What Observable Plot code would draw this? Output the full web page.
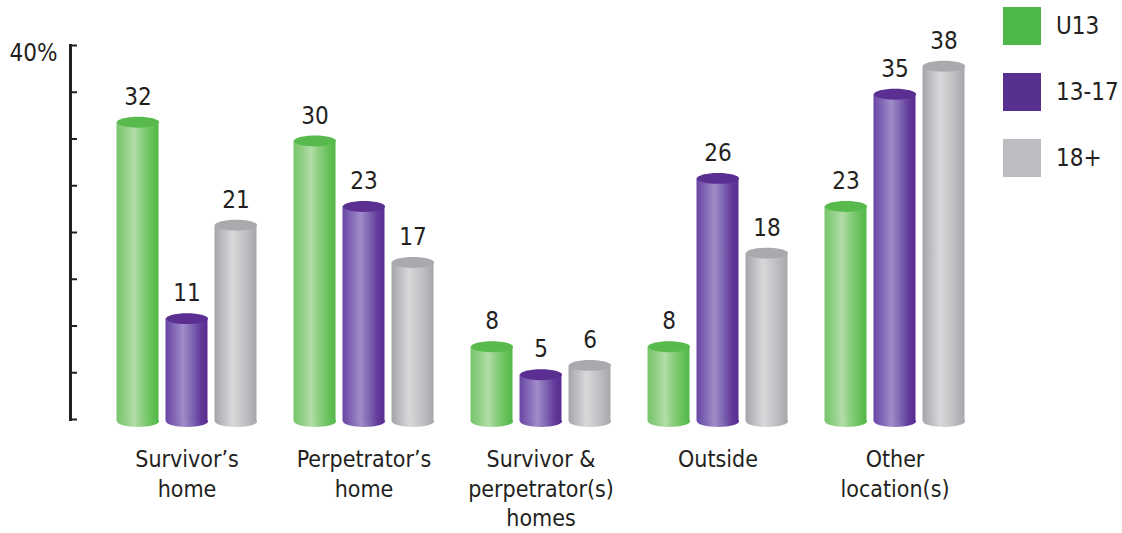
<!DOCTYPE html>
<html>
<head>
<meta charset="utf-8">
<script src="https://cdn.jsdelivr.net/npm/d3@7"></script>
<script src="https://cdn.jsdelivr.net/npm/@observablehq/plot@0.6"></script>
<style>
  html, body { margin: 0; padding: 0; background: #fff; }
  #wrap { position: relative; width: 1122px; height: 533px; font-family: "Liberation Sans Narrow", "DejaVu Sans Condensed", "DejaVu Sans", sans-serif; font-stretch: condensed; color: #231f20; }
  #legend { position: absolute; left: 1003px; top: 7px; }
  .item { display: flex; align-items: center; height: 38px; margin-bottom: 28px; }
  .sw { width: 38px; height: 38px; margin-right: 15px; }
  .lab { font-size: 24px; }
</style>
</head>
<body>
<div id="wrap"><div id="legend"></div></div>
<script>
const categories = ["Survivor’s home", "Perpetrator’s home", "Survivor & perpetrator(s) homes", "Outside", "Other location(s)"];
const categoryLabels = ["Survivor’s\nhome", "Perpetrator’s\nhome", "Survivor &\nperpetrator(s)\nhomes", "Outside", "Other\nlocation(s)"];
const series = ["U13", "13-17", "18+"];
const valuesU13 = [32, 30, 8, 8, 23];
const values1317 = [11, 23, 5, 26, 35];
const values18 = [21, 17, 6, 18, 38];
const yTicks = [0, 5, 10, 15, 20, 25, 30, 35, 40];

const seriesValues = [valuesU13, values1317, values18];
const legendColors = ["#4cb848", "#55308f", "#bcbdc0"];
const topColors = ["#58ba4c", "#5a2f91", "#a9aaad"];
const gradStops = [
  [["0%", "#78c56c"], ["20%", "#8fcf84"], ["42%", "#b3dda8"], ["60%", "#8ccf80"], ["82%", "#69c25c"], ["100%", "#52b746"]],
  [["0%", "#6846a3"], ["20%", "#8166b6"], ["42%", "#a18cc8"], ["62%", "#8068b4"], ["84%", "#623a9a"], ["100%", "#582c90"]],
  [["0%", "#a4a5a8"], ["20%", "#bdbec1"], ["42%", "#d7d8da"], ["65%", "#c6c7c9"], ["85%", "#b4b5b8"], ["100%", "#a6a7aa"]]
];

const data = series.flatMap((s, si) => categories.map((c, ci) => ({category: c, series: s, value: seriesValues[si][ci]})));
const labelData = categories.map((c, i) => ({category: c, label: categoryLabels[i]}));

const ellipse = {
  draw(ctx, size) {
    const rx = Math.sqrt(size / Math.PI), ry = rx * 0.26, k = 0.5523;
    ctx.moveTo(rx, 0);
    ctx.bezierCurveTo(rx, ry * k, rx * k, ry, 0, ry);
    ctx.bezierCurveTo(-rx * k, ry, -rx, ry * k, -rx, 0);
    ctx.bezierCurveTo(-rx, -ry * k, -rx * k, -ry, 0, -ry);
    ctx.bezierCurveTo(rx * k, -ry, rx, -ry * k, rx, 0);
    ctx.closePath();
  }
};

const step = 49, barW = 42;
const seriesMarks = series.flatMap((s, si) => {
  const d = data.filter(r => r.series === s);
  const dx = (si - 1) * step;
  const grad = `url(#cyl${si})`;
  return [
    Plot.dot(d, {x: "category", y: () => 0, dx, r: barW / 2, symbol: ellipse, fill: grad, stroke: "none"}),
    Plot.barY(d, {x: "category", y: "value", dx, insetLeft: (177 - barW) / 2, insetRight: (177 - barW) / 2, fill: grad}),
    Plot.dot(d, {x: "category", y: "value", dx, r: barW / 2, symbol: ellipse, fill: topColors[si], stroke: "none"}),
    Plot.text(d, {x: "category", y: "value", dx, dy: -25, text: r => String(r.value), lineAnchor: "middle", fontSize: 24, fill: "#231f20"})
  ];
});

const plot = Plot.plot({
  width: 1122,
  height: 533,
  marginLeft: 70,
  marginRight: 139,
  marginTop: 47,
  marginBottom: 112,
  style: {fontFamily: '"Liberation Sans Narrow", "DejaVu Sans Condensed", "DejaVu Sans", sans-serif', fontStretch: "condensed", background: "#fff", color: "#231f20"},
  x: {domain: categories, range: [97.5, 982.5], padding: 0, axis: null},
  y: {domain: [0, 40], axis: null},
  marks: [
    Plot.frame({anchor: "left", stroke: "#231f20", strokeWidth: 3, dy: -2}),
    Plot.axisY({ticks: yTicks, tickSize: -7, tickFormat: () => "", label: null, stroke: "#231f20", strokeWidth: 2, dy: -2}),
    Plot.text([40], {y: d => d, text: () => "40%", frameAnchor: "left", textAnchor: "end", dx: -13, dy: 6, fontSize: 24, fill: "#231f20"}),
    ...seriesMarks,
    Plot.text(labelData, {x: "category", text: "label", frameAnchor: "bottom", lineAnchor: "top", dy: 25, lineHeight: 1.28, fontSize: 23, fill: "#231f20"})
  ]
});

// gradient definitions
const svgNS = "http://www.w3.org/2000/svg";
const defs = document.createElementNS(svgNS, "defs");
gradStops.forEach((stops, i) => {
  const g = document.createElementNS(svgNS, "linearGradient");
  g.setAttribute("id", `cyl${i}`);
  g.setAttribute("x1", "0"); g.setAttribute("x2", "1"); g.setAttribute("y1", "0"); g.setAttribute("y2", "0");
  stops.forEach(([o, c]) => {
    const st = document.createElementNS(svgNS, "stop");
    st.setAttribute("offset", o); st.setAttribute("stop-color", c);
    g.appendChild(st);
  });
  defs.appendChild(g);
});
plot.insertBefore(defs, plot.firstChild);

const wrap = document.getElementById("wrap");
wrap.insertBefore(plot, wrap.firstChild);

const legend = document.getElementById("legend");
series.forEach((s, i) => {
  const item = document.createElement("div");
  item.className = "item";
  const sw = document.createElement("div");
  sw.className = "sw"; sw.style.background = legendColors[i];
  const lab = document.createElement("span");
  lab.className = "lab"; lab.textContent = s;
  item.appendChild(sw); item.appendChild(lab);
  legend.appendChild(item);
});
</script>
</body>
</html>
